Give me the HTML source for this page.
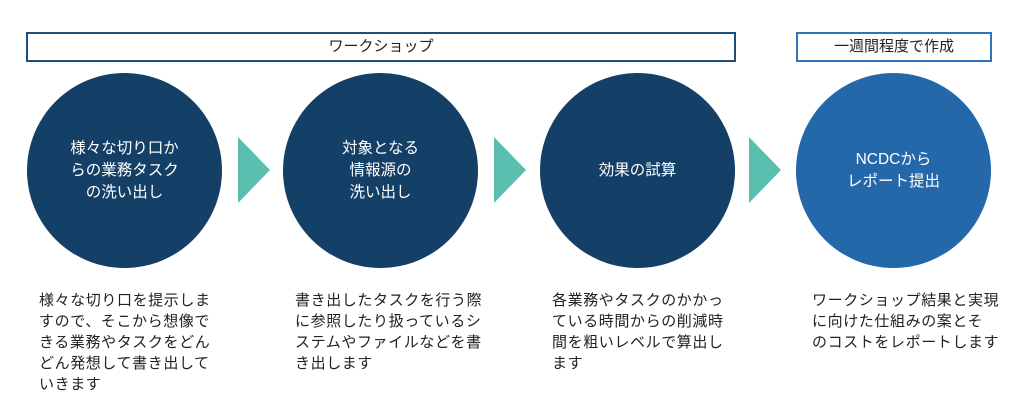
<!DOCTYPE html>
<html><head><meta charset="utf-8"><style>
html,body{margin:0;padding:0;background:#fff;}
body{width:1024px;height:417px;position:relative;overflow:hidden;font-family:"Liberation Sans","Noto Sans CJK JP",sans-serif;}
.box{position:absolute;box-sizing:border-box;height:30px;top:32px;text-align:center;line-height:26px;font-size:15px;color:#222;}
.c{position:absolute;width:195px;height:195px;border-radius:50%;top:73px;display:flex;align-items:center;justify-content:center;text-align:center;color:#fff;font-size:15.5px;line-height:22px;}
.t{position:absolute;width:0;height:0;border-top:33px solid transparent;border-bottom:33px solid transparent;border-left:32px solid #5bbfb0;top:137px;}
.p{position:absolute;top:290px;font-size:15px;line-height:21px;color:#222;white-space:nowrap;letter-spacing:0.6px;}
</style></head><body>
<div class="box" style="left:26px;width:710px;border:2px solid #1f4e79;">ワークショップ</div>
<div class="box" style="left:796px;width:196px;border:2px solid #2e75b6;">一週間程度で作成</div>

<div class="c" style="left:27px;background:#143f66;">様々な切り口か<br>らの業務タスク<br>の洗い出し</div>
<div class="c" style="left:283px;background:#143f66;">対象となる<br>情報源の<br>洗い出し</div>
<div class="c" style="left:540px;background:#143f66;">効果の試算</div>
<div class="c" style="left:796px;background:#2568aa;">NCDCから<br>レポート提出</div>

<div class="t" style="left:238px;"></div>
<div class="t" style="left:494px;"></div>
<div class="t" style="left:749px;"></div>

<div class="p" style="left:39px;">様々な切り口を提示しま<br>すので、そこから想像で<br>きる業務やタスクをどん<br>どん発想して書き出して<br>いきます</div>
<div class="p" style="left:295px;">書き出したタスクを行う際<br>に参照したり扱っているシ<br>ステムやファイルなどを書<br>き出します</div>
<div class="p" style="left:552px;">各業務やタスクのかかっ<br>ている時間からの削減時<br>間を粗いレベルで算出し<br>ます</div>
<div class="p" style="left:812px;">ワークショップ結果と実現<br>に向けた仕組みの案とそ<br>のコストをレポートします</div>
</body></html>
